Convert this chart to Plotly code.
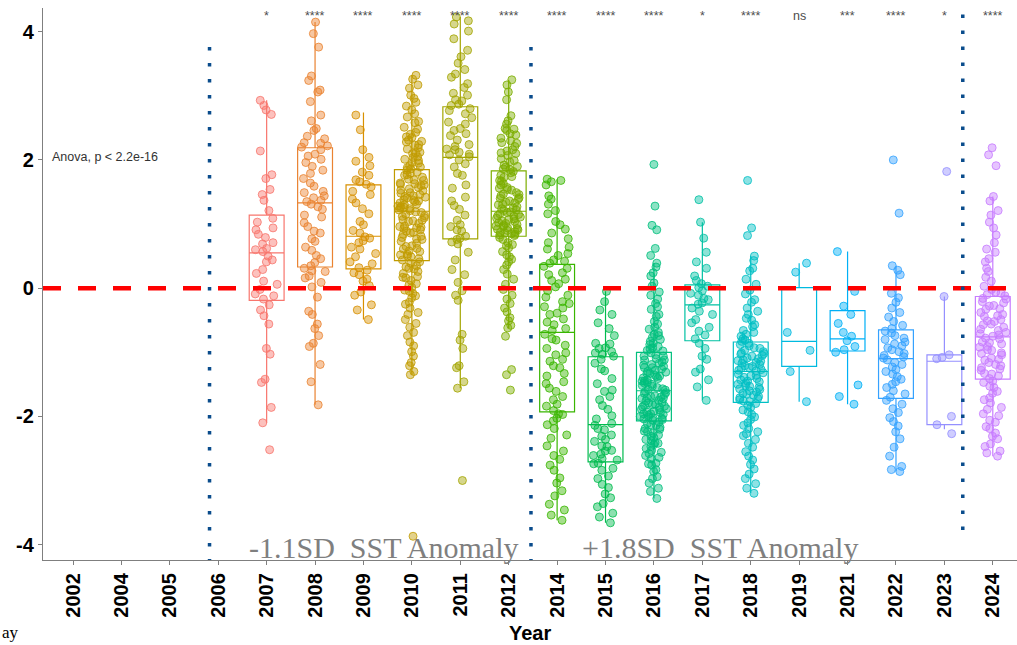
import plotly.graph_objects as go

# ---- categories -----------------------------------------------------------
years = ["2002", "2004", "2005", "2006", "2007", "2008", "2009", "2010", "2011",
         "2012", "2014", "2015", "2016", "2017", "2018", "2019", "2021", "2022",
         "2023", "2024"]
sampled_years = ["2007", "2008", "2009", "2010", "2011", "2012", "2014", "2015",
                 "2016", "2017", "2018", "2019", "2021", "2022", "2023", "2024"]
year_colors = ["#F8766D", "#EA8331", "#D89000", "#C09B00", "#A3A500", "#7CAE00",
               "#39B600", "#00BB4E", "#00BF7D", "#00C1A3", "#00BFC4", "#00BAE0",
               "#00B0F6", "#35A2FF", "#9590FF", "#C77CFF"]
signif_labels = ["*", "****", "****", "****", "****", "****", "****", "****",
                 "****", "*", "****", "ns", "***", "****", "*", "****"]

# ---- box summaries (per sampled year) -------------------------------------
box_q1 = [-0.19, 0.33, 0.30, 0.43, 0.77, 0.81, -1.93, -2.71, -2.07, -0.82,
          -1.78, -1.22, -0.98, -1.72, -2.13, -1.42]
box_median = [0.55, 1.33, 0.81, 1.20, 2.04, 1.20, -0.69, -2.13, -1.60, -0.26,
              -1.30, -0.83, -0.79, -1.10, -1.14, -0.76]
box_q3 = [1.14, 2.19, 1.61, 1.85, 2.83, 1.83, 0.37, -1.07, -1.00, 0.05,
          -0.84, 0.01, -0.35, -0.65, -1.04, -0.13]
whisker_low = [-2.10, -1.82, -0.49, -1.35, -1.56, -0.62, -3.62, -3.66, -3.28,
               -1.75, -3.20, -1.77, -1.81, -2.86, -2.20, -2.62]
whisker_high = [2.93, 4.15, 2.74, 3.32, 4.23, 3.25, 1.70, -0.05, 0.39, 1.03,
                0.50, 0.39, 0.57, 0.35, -0.13, 1.43]

# ---- individual anomaly values --------------------------------------------
anom_2007 = [2.93, 2.85, 2.78, 2.71, 2.14, 1.77, 1.71, 1.54, 1.46, 1.37, 1.21,
             1.09, 1.03, 0.94, 0.91, 0.84, 0.79, 0.71, 0.69, 0.62, 0.6, 0.57,
             0.5, 0.44, 0.41, 0.29, 0.23, 0.11, 0.06, -0.02, -0.09, -0.12, -0.17,
             -0.26, -0.34, -0.43, -0.56, -0.94, -1.03, -1.42, -1.47, -1.86,
             -2.1, -2.52]
anom_2008 = [4.15, 3.97, 3.76, 3.31, 3.24, 3.09, 3.06, 2.91, 2.7, 2.61, 2.49,
             2.46, 2.37, 2.33, 2.27, 2.26, 2.22, 2.2, 2.16, 2.09, 2.06, 2.01,
             1.96, 1.9, 1.84, 1.79, 1.71, 1.64, 1.59, 1.51, 1.49, 1.44, 1.41,
             1.37, 1.35, 1.31, 1.27, 1.23, 1.14, 1.11, 1.02, 0.96, 0.89, 0.86,
             0.77, 0.73, 0.64, 0.59, 0.51, 0.46, 0.4, 0.35, 0.31, 0.27, 0.26,
             0.19, 0.16, 0.09, 0.02, -0.14, -0.36, -0.41, -0.56, -0.63, -0.74,
             -0.86, -0.91, -1.19, -1.46, -1.82]
anom_2009 = [2.7, 2.47, 2.16, 2.04, 1.98, 1.91, 1.81, 1.76, 1.69, 1.66, 1.62,
             1.58, 1.51, 1.46, 1.39, 1.33, 1.24, 1.16, 1.04, 0.99, 0.9, 0.86,
             0.8, 0.78, 0.74, 0.71, 0.64, 0.61, 0.54, 0.49, 0.41, 0.38, 0.32,
             0.28, 0.24, 0.21, 0.14, 0.11, 0.04, -0.06, -0.11, -0.26, -0.34,
             -0.49]
anom_2010 = [3.32, 3.26, 3.17, 3.12, 3.01, 2.96, 2.9, 2.84, 2.78, 2.72, 2.67,
             2.6, 2.58, 2.51, 2.48, 2.43, 2.4, 2.35, 2.31, 2.28, 2.23, 2.19,
             2.17, 2.12, 2.1, 2.05, 2.04, 1.99, 1.96, 1.95, 1.91, 1.88, 1.86,
             1.89, 2.01, 2.11, 2.24, 2.36, 1.84, 1.81, 1.79, 1.76, 1.73, 1.7,
             1.68, 1.64, 1.61, 1.6, 1.57, 1.53, 1.52, 1.49, 1.46, 1.43, 1.42,
             1.38, 1.36, 1.35, 1.33, 1.31, 1.3, 1.28, 1.26, 1.25, 1.24, 1.22,
             1.21, 1.69, 1.55, 1.44, 1.77, 1.62, 1.37, 1.27, 1.48, 1.19, 1.18,
             1.15, 1.12, 1.1, 1.07, 1.05, 1.04, 1.01, 0.97, 0.96, 0.94, 0.91,
             0.87, 0.86, 0.84, 0.81, 0.77, 0.76, 0.73, 0.7, 0.66, 0.65, 0.61,
             0.58, 0.57, 0.53, 0.5, 0.49, 0.46, 0.44, 1.13, 0.95, 0.79, 0.62,
             0.89, 1.06, 0.41, 0.39, 0.35, 0.33, 0.3, 0.26, 0.23, 0.18, 0.16,
             0.12, 0.07, 0.05, 0.01, -0.03, -0.08, -0.12, -0.15, -0.22, -0.25,
             -0.31, -0.38, -0.41, -0.49, -0.55, -0.61, -0.69, -0.74, -0.84,
             -0.9, -0.99, -1.06, -1.16, -1.21, -1.3, -1.35, -3.87, 0.31, 0.17,
             -0.05, 0.52, 0.93, 1.41, 1.63, 2.29]
anom_2011 = [4.23, 4.17, 4.12, 4.01, 3.89, 3.71, 3.61, 3.51, 3.41, 3.34, 3.29,
             3.19, 3.13, 3.04, 3.01, 2.94, 2.92, 2.87, 2.85, 2.8, 2.77, 2.72,
             2.66, 2.59, 2.56, 2.49, 2.46, 2.41, 2.38, 2.31, 2.24, 2.21, 2.17,
             2.16, 2.12, 2.09, 2.08, 2.05, 2.0, 1.94, 1.89, 1.79, 1.76, 1.61,
             1.56, 1.42, 1.36, 1.29, 1.23, 1.14, 1.06, 0.99, 0.96, 0.91, 0.89,
             0.81, 0.78, 0.76, 0.72, 0.69, 0.56, 0.29, 0.21, 0.09, -0.11, -0.19,
             -0.72, -0.81, -0.94, -1.21, -1.24, -1.46, -1.56, -3.0, 0.44, -0.04]
anom_2012 = [3.25, 3.17, 3.06, 2.94, 2.69, 2.61, 2.56, 2.49, 2.46, 2.41, 2.39,
             2.34, 2.27, 2.26, 2.21, 2.16, 2.11, 2.1, 2.07, 2.02, 1.99, 1.97,
             1.92, 1.9, 1.89, 1.86, 1.85, 2.3, 2.48, 2.14, 1.82, 1.8, 1.76,
             1.74, 1.73, 1.68, 1.67, 1.63, 1.61, 1.57, 1.54, 1.53, 1.49, 1.47,
             1.46, 1.41, 1.4, 1.39, 1.36, 1.34, 1.31, 1.3, 1.27, 1.25, 1.24,
             1.22, 1.21, 1.56, 1.44, 1.33, 1.19, 1.18, 1.16, 1.15, 1.13, 1.11,
             1.09, 1.08, 1.05, 1.04, 1.02, 1.01, 0.99, 0.97, 0.96, 0.94, 0.93,
             0.91, 0.9, 0.88, 0.87, 0.85, 0.84, 0.83, 0.82, 1.07, 0.98, 1.12,
             0.92, 0.86, 0.79, 0.76, 0.71, 0.68, 0.63, 0.57, 0.52, 0.49, 0.41,
             0.36, 0.29, 0.22, 0.14, 0.06, -0.02, -0.11, -0.17, -0.24, -0.31,
             -0.37, -0.46, -0.51, -0.58, -0.62, -0.75, -1.27, -1.35, -1.59, 0.66,
             0.45]
anom_2014 = [1.7, 1.68, 1.66, 1.61, 1.44, 1.39, 1.31, 1.21, 1.16, 1.04, 0.99,
             0.92, 0.86, 0.77, 0.71, 0.64, 0.61, 0.54, 0.51, 0.44, 0.42, 0.39,
             0.34, 0.31, 0.24, 0.21, 0.14, 0.12, 0.07, 0.02, -0.04, -0.11,
             -0.14, -0.21, -0.24, -0.29, -0.31, -0.39, -0.41, -0.48, -0.53,
             -0.57, -0.63, -0.66, -0.72, -0.79, -0.81, -0.89, -0.94, -1.01,
             -1.04, -1.11, -1.14, -1.21, -1.24, -1.33, -1.37, -1.46, -1.49,
             -1.56, -1.61, -1.69, -1.74, -1.81, -1.84, -1.91, -1.96, -1.97,
             -2.03, -2.07, -2.13, -2.19, -2.29, -2.34, -2.46, -2.54, -2.61,
             -2.67, -2.76, -2.84, -2.96, -3.04, -3.16, -3.24, -3.37, -3.46,
             -3.54, -3.62]
anom_2015 = [-0.05, -0.21, -0.34, -0.41, -0.54, -0.63, -0.74, -0.86, -0.87,
             -0.93, -0.94, -0.99, -1.01, -1.03, -1.06, -1.11, -1.17, -1.26,
             -1.29, -1.41, -1.49, -1.59, -1.61, -1.69, -1.74, -1.83, -1.89,
             -1.99, -2.04, -2.11, -2.14, -2.19, -2.21, -2.29, -2.31, -2.36,
             -2.39, -2.46, -2.47, -2.53, -2.54, -2.59, -2.61, -2.66, -2.68,
             -2.73, -2.74, -2.81, -2.84, -2.93, -2.97, -3.06, -3.11, -3.21,
             -3.27, -3.36, -3.41, -3.51, -3.57, -3.66]
anom_2016 = [1.93, 1.28, 0.98, 0.91, 0.62, 0.51, 0.39, 0.33, 0.24, 0.19, 0.08,
             0.03, -0.06, -0.11, -0.17, -0.24, -0.29, -0.33, -0.41, -0.44,
             -0.52, -0.56, -0.61, -0.64, -0.69, -0.72, -0.77, -0.8, -0.83,
             -0.86, -0.88, -0.91, -0.93, -0.95, -0.97, -0.98, -0.74, -1.01,
             -1.04, -1.06, -1.06, -1.1, -1.12, -1.12, -1.15, -1.17, -1.19, -1.2,
             -1.24, -1.24, -1.26, -1.28, -1.3, -1.31, -1.33, -1.33, -1.36,
             -1.38, -1.4, -1.41, -1.43, -1.45, -1.45, -1.48, -1.5, -1.52, -1.53,
             -1.55, -1.57, -1.58, -1.59, -1.22, -1.37, -1.47, -1.61, -1.63,
             -1.64, -1.66, -1.68, -1.69, -1.7, -1.72, -1.72, -1.75, -1.76,
             -1.78, -1.79, -1.81, -1.82, -1.83, -1.85, -1.86, -1.88, -1.89,
             -1.9, -1.92, -1.93, -1.94, -1.96, -1.97, -1.98, -2.0, -2.01, -2.02,
             -2.03, -2.04, -2.05, -2.06, -1.71, -1.84, -1.96, -2.09, -2.11,
             -2.14, -2.17, -2.19, -2.23, -2.24, -2.29, -2.31, -2.33, -2.38,
             -2.41, -2.44, -2.47, -2.53, -2.56, -2.58, -2.64, -2.66, -2.73,
             -2.76, -2.83, -2.86, -2.94, -2.97, -3.04, -3.12, -3.17, -3.28,
             -2.13, -2.26, -2.42, -2.61, -2.36, -2.2, -2.5, -2.74]
anom_2017 = [1.38, 1.03, 0.78, 0.56, 0.41, 0.31, 0.19, 0.12, 0.07, 0.03, 0.01,
             -0.04, -0.08, -0.11, -0.16, -0.18, -0.23, -0.25, -0.31, -0.36,
             -0.41, -0.49, -0.54, -0.61, -0.67, -0.73, -0.79, -0.86, -0.94,
             -1.06, -1.11, -1.26, -1.31, -1.43, -1.54, -1.75]
anom_2018 = [1.68, 0.94, 0.82, 0.5, 0.43, 0.31, 0.27, 0.14, 0.06, -0.03, -0.09,
             -0.18, -0.22, -0.31, -0.36, -0.41, -0.47, -0.5, -0.57, -0.6, -0.66,
             -0.69, -0.72, -0.75, -0.79, -0.81, -0.83, -0.86, -0.88, -0.9,
             -0.93, -0.94, -0.97, -0.99, -1.01, -1.03, -1.05, -1.06, -1.09,
             -1.1, -1.12, -1.14, -1.16, -1.17, -1.19, -1.21, -1.22, -1.24,
             -1.25, -1.27, -1.28, -1.29, -1.02, -1.13, -1.32, -1.34, -1.36,
             -1.37, -1.39, -1.41, -1.43, -1.45, -1.46, -1.48, -1.5, -1.52,
             -1.53, -1.55, -1.57, -1.58, -1.6, -1.62, -1.64, -1.65, -1.67,
             -1.69, -1.71, -1.72, -1.74, -1.76, -1.77, -1.8, -1.83, -1.86, -1.9,
             -1.93, -1.97, -2.01, -2.05, -2.1, -2.14, -2.19, -2.24, -2.3, -2.36,
             -2.42, -2.48, -2.55, -2.62, -2.68, -2.75, -2.82, -2.9, -2.97,
             -3.05, -3.12, -3.2, -2.27]
anom_2019 = [0.39, 0.25, -0.69, -0.97, -1.3, -1.77]
anom_2021 = [0.57, -0.05, -0.28, -0.41, -0.55, -0.69, -0.75, -0.82, -0.91,
             -0.96, -1.0, -1.51, -1.69, -1.81]
anom_2022 = [2.0, 1.17, 0.35, 0.28, 0.21, -0.08, -0.15, -0.22, -0.31, -0.38,
             -0.45, -0.52, -0.58, -0.63, -0.67, -0.7, -0.74, -0.78, -0.8, -0.84,
             -0.87, -0.9, -0.93, -0.96, -0.99, -1.02, -1.05, -1.07, -1.09,
             -1.12, -1.16, -1.19, -1.23, -1.27, -1.3, -1.34, -1.38, -1.42,
             -1.46, -1.5, -1.55, -1.6, -1.65, -1.7, -1.75, -1.81, -1.88, -1.94,
             -2.02, -2.08, -2.15, -2.24, -2.35, -2.48, -2.62, -2.78, -2.83,
             -2.86]
anom_2023 = [1.82, -0.13, -1.04, -1.08, -1.1, -2.0, -2.13, -2.27]
anom_2024 = [2.19, 2.08, 1.91, 1.43, 1.36, 1.21, 1.14, 1.03, 0.94, 0.83, 0.71,
             0.61, 0.56, 0.46, 0.41, 0.31, 0.26, 0.17, 0.11, 0.03, -0.02, -0.06,
             -0.08, -0.1, -0.12, -0.16, -0.17, -0.21, -0.23, -0.27, -0.28, -0.32,
             -0.33, -0.38, -0.41, -0.43, -0.44, -0.49, -0.51, -0.52, -0.56,
             -0.57, -0.61, -0.64, -0.66, -0.69, -0.71, -0.73, -0.75, -0.78,
             -0.79, -0.84, -0.85, -0.87, -0.91, -0.92, -0.96, -0.97, -1.01,
             -1.02, -1.04, -1.09, -1.11, -1.12, -1.16, -1.19, -1.21, -1.24,
             -1.26, -1.28, -1.33, -1.34, -1.37, -1.41, -1.45, -1.47, -1.53,
             -1.55, -1.61, -1.64, -1.71, -1.74, -1.79, -1.86, -1.89, -1.96,
             -1.99, -2.06, -2.09, -2.16, -2.19, -2.26, -2.31, -2.35, -2.43,
             -2.47, -2.54, -2.57, -2.62]

anomalies = [anom_2007, anom_2008, anom_2009, anom_2010, anom_2011, anom_2012,
             anom_2014, anom_2015, anom_2016, anom_2017, anom_2018, anom_2019,
             anom_2021, anom_2022, anom_2023, anom_2024]


def rgba(hex_color, alpha):
    h = hex_color.lstrip("#")
    r, g, b = int(h[0:2], 16), int(h[2:4], 16), int(h[4:6], 16)
    return f"rgba({r},{g},{b},{alpha})"


fig = go.Figure()

# keep every sampling year on the axis, including years with no observations
fig.add_trace(go.Scatter(x=years, y=[None] * len(years), mode="markers",
                         showlegend=False, hoverinfo="skip"))

for i, yr in enumerate(sampled_years):
    c = year_colors[i]
    # box: quartiles, median and whiskers
    fig.add_trace(go.Box(
        x=[yr], q1=[box_q1[i]], median=[box_median[i]], q3=[box_q3[i]],
        lowerfence=[whisker_low[i]], upperfence=[whisker_high[i]],
        orientation="v", boxpoints=False, width=0.72, whiskerwidth=0,
        line=dict(color=c, width=1.2), fillcolor="rgba(255,255,255,0)",
        showlegend=False,
    ))
    # jittered observations
    fig.add_trace(go.Box(
        x=[yr] * len(anomalies[i]), y=anomalies[i], orientation="v",
        boxpoints="all", jitter=1, pointpos=0, width=0.58,
        line=dict(color=rgba(c, 0), width=0), fillcolor="rgba(0,0,0,0)",
        marker=dict(size=8, color=rgba(c, 0.45),
                    line=dict(color=rgba(c, 0.8), width=1)),
        hoveron="points", showlegend=False,
    ))

dot_style = dict(color="#0A4C8C", width=3.5, dash="3.5px,12.5px")
shapes = [
    # zero-anomaly reference
    dict(type="line", xref="paper", yref="y", x0=0, x1=1, y0=0, y1=0,
         line=dict(color="#FF0000", width=4.5, dash="18px,17px")),
    # period boundaries
    dict(type="line", xref="x", yref="y", x0=2.82, x1=2.82, y0=3.76, y1=-4.24,
         line=dot_style),
    dict(type="line", xref="x", yref="y", x0=9.46, x1=9.46, y0=3.76, y1=-4.24,
         line=dot_style),
    dict(type="line", xref="x", yref="y", x0=18.38, x1=18.38, y0=4.27, y1=-3.78,
         line=dot_style),
]

annotations = []
for yr, lab in zip(sampled_years, signif_labels):
    annotations.append(dict(x=years.index(yr), y=4.25, xref="x", yref="y",
                            text=lab, showarrow=False, xanchor="center",
                            yanchor="middle",
                            font=dict(family="Liberation Sans", size=12.5,
                                      color="#4d4d4d")))
annotations += [
    dict(x=-0.475, y=2.04, xref="x", yref="y", text="Anova, p < 2.2e-16",
         showarrow=False, xanchor="left", yanchor="middle",
         font=dict(family="Liberation Sans", size=12.5, color="#333333")),
    dict(x=3.6, y=-4.04, xref="x", yref="y", text="-1.1SD\u00a0 SST Anomaly",
         showarrow=False, xanchor="left", yanchor="middle",
         font=dict(family="Liberation Serif", size=30, color="#7F7F7F")),
    dict(x=10.47, y=-4.04, xref="x", yref="y", text="+1.8SD\u00a0 SST Anomaly",
         showarrow=False, xanchor="left", yanchor="middle",
         font=dict(family="Liberation Serif", size=30, color="#7F7F7F")),
    dict(x=0.5, y=-0.132, xref="paper", yref="paper", text="Year",
         showarrow=False, xanchor="center", yanchor="middle",
         font=dict(family="Liberation Sans", size=20, color="black",
                   weight="bold")),
    dict(x=-0.0441, y=-0.152, xref="paper", yref="paper", text="ay",
         showarrow=False, xanchor="left", yanchor="bottom",
         font=dict(family="Liberation Serif", size=17, color="black")),
]

fig.update_layout(
    width=1017, height=645,
    margin=dict(l=43, r=0, t=8, b=85, autoexpand=False),
    paper_bgcolor="white", plot_bgcolor="white",
    boxmode="overlay", showlegend=False,
    shapes=shapes, annotations=annotations,
    xaxis=dict(type="category", categoryorder="array", categoryarray=years,
               range=[-0.62, 19.5], showgrid=False, zeroline=False,
               showline=True, linecolor="#7F7F7F", linewidth=1.3,
               ticks="outside", ticklen=4, tickcolor="#7F7F7F", tickangle=-90,
               tickfont=dict(family="Liberation Sans", size=20, color="black",
                             weight="bold")),
    yaxis=dict(range=[-4.24, 4.37], tickvals=[-4, -2, 0, 2, 4],
               ticktext=["-4", "-2", "0", "2", "4"], showgrid=False,
               zeroline=False, showline=True, linecolor="#7F7F7F",
               linewidth=1.3, ticks="outside", ticklen=4, tickcolor="#7F7F7F",
               tickfont=dict(family="Liberation Sans", size=20, color="black",
                             weight="bold")),
)

fig.write_html("out.html")
